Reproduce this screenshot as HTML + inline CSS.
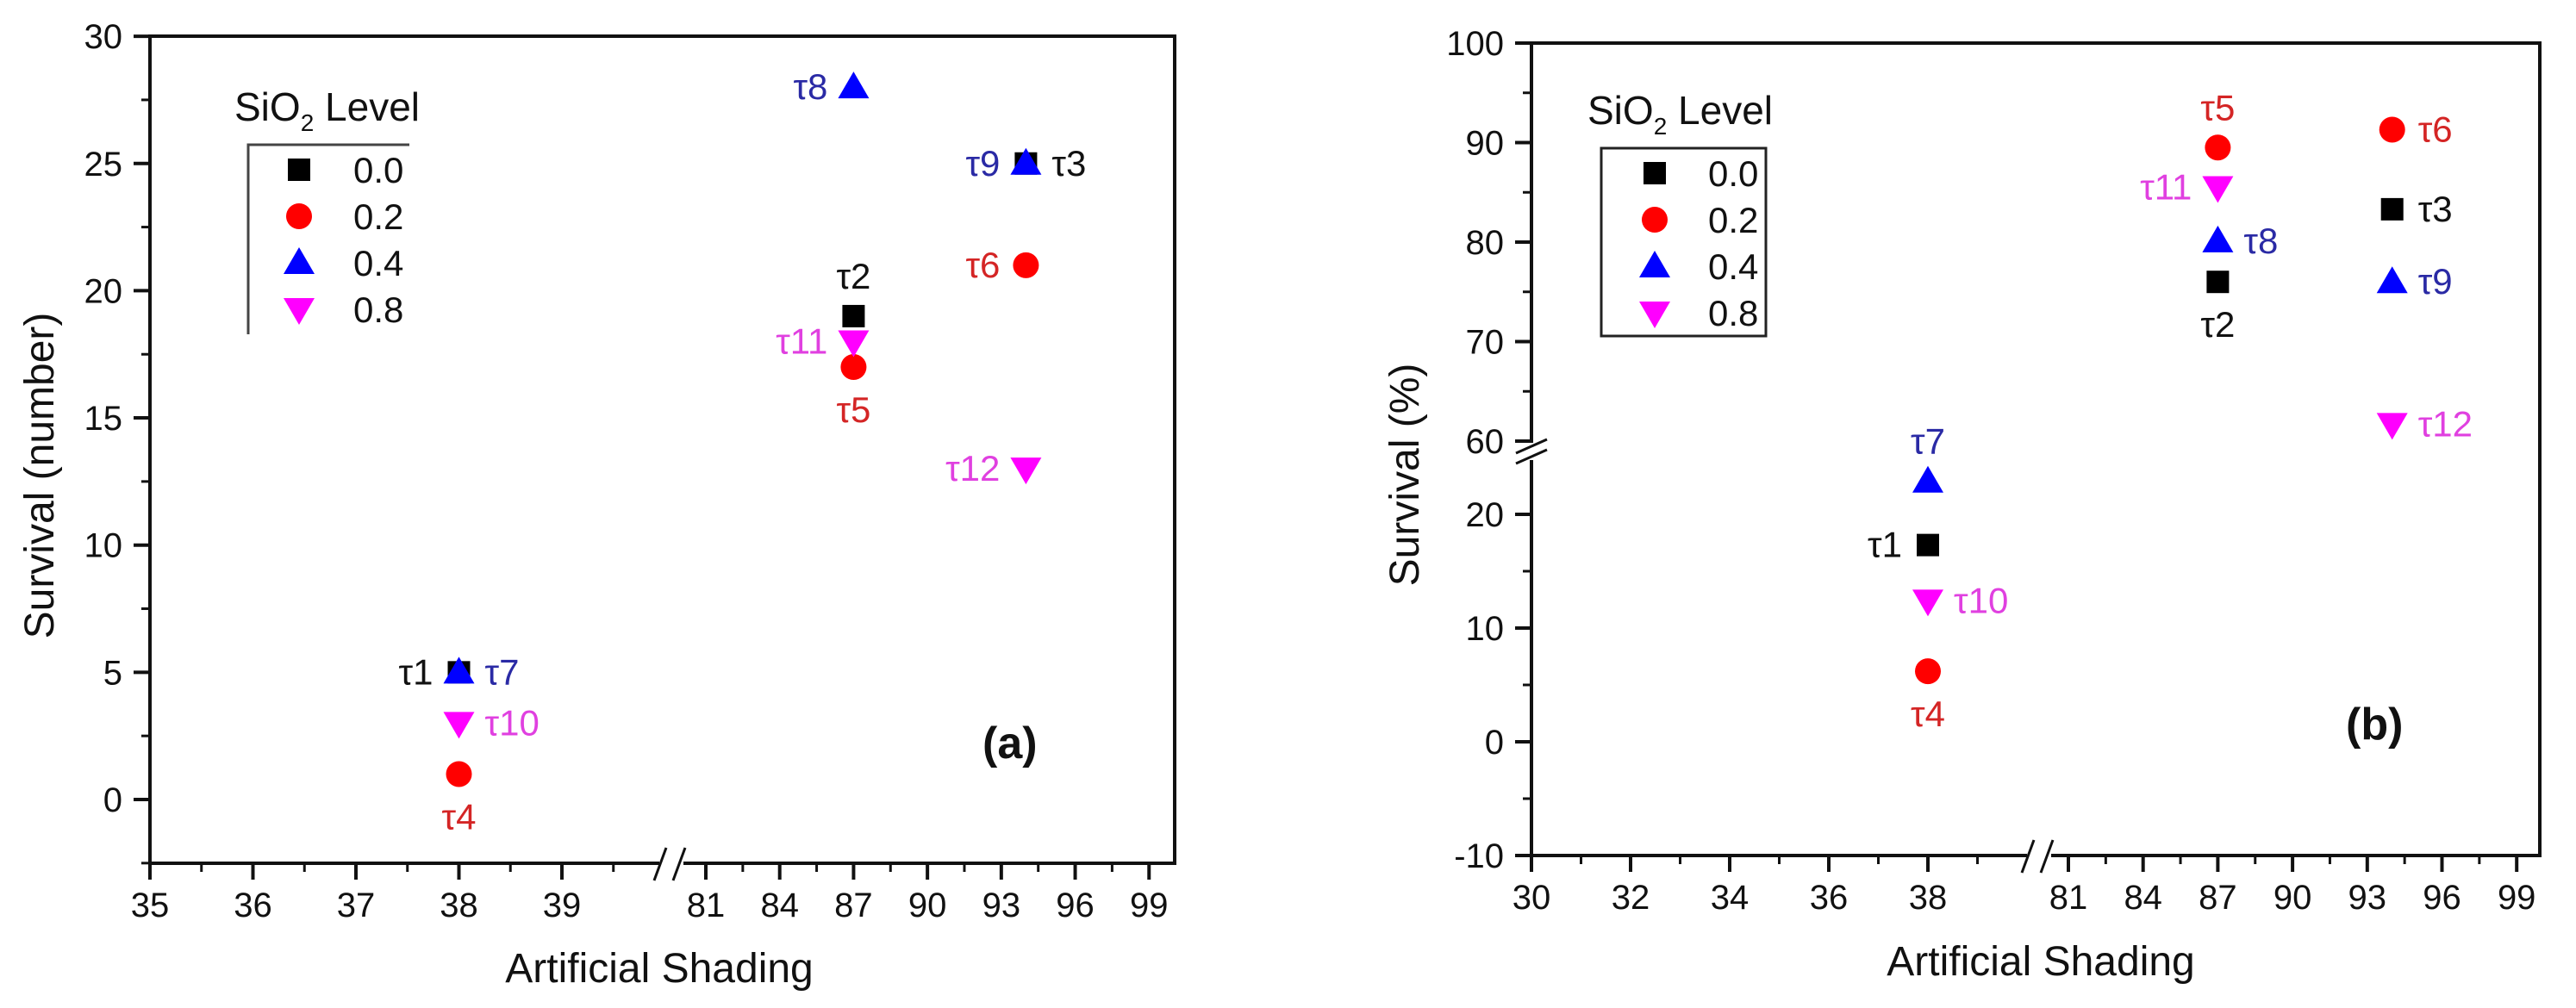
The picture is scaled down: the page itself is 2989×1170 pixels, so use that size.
<!DOCTYPE html>
<html><head><meta charset="utf-8"><style>
html,body{margin:0;padding:0;background:#fff;}
svg{display:block;font-family:"Liberation Sans",Arial,sans-serif;}
</style></head><body>
<svg id="fig" width="2989" height="1170" viewBox="0 0 2989 1170" xmlns="http://www.w3.org/2000/svg"></svg>
<script>
// ---- data (panel a: survival number) ----
const labelsA = ["τ1","τ2","τ3","τ4","τ5","τ6","τ7","τ8","τ9","τ10","τ11","τ12"];
const shadingA = [38,87,94,38,87,94,38,87,94,38,87,94];
const valuesA = [5,19,25,1,17,21,5,28,25,3,18,13];
// ---- data (panel b: survival %) ----
const shadingB = [38,87,94,38,87,94,38,87,94,38,87,94];
const valuesB = [17.3,76,83.3,6.2,89.5,91.3,22.9,80.1,76,12.4,85.5,61.7];
// SiO2 level per treatment index (0..3)
const levelIdx = [0,0,0,1,1,1,2,2,2,3,3,3];
const levels = ["0.0","0.2","0.4","0.8"];
const xTicksA = [35,36,37,38,39,81,84,87,90,93,96,99];
const xTicksB = [30,32,34,36,38,81,84,87,90,93,96,99];
const yTicksA = [0,5,10,15,20,25,30];
const yTicksB = [-10,0,10,20,60,70,80,90,100];
// label placement side for each treatment
const sideA = ["L","T","R","B","B","L","R","L","L","R","L","L"];
const sideB = ["L","B","R","B","T","R","T","R","R","R","L","R"];

const NS="http://www.w3.org/2000/svg";
const svg=document.getElementById('fig');
const mk=["#000000","#ff0000","#0000ff","#ff00ff"];
const lc=["#111111","#d42525","#2a2aa5","#e040e0"];
function el(tag,attrs,parent){const e=document.createElementNS(NS,tag);for(const k in attrs)e.setAttribute(k,attrs[k]);(parent||svg).appendChild(e);return e;}
function txt(s,x,y,attrs,parent){const t=el('text',Object.assign({x:x,y:y},attrs),parent);t.textContent=s;return t;}

function marker(g,lvl,x,y){
  let m;
  if(lvl===0){m=el('rect',{x:x-13,y:y-13,width:26,height:26,fill:mk[0]},g);}
  else if(lvl===1){m=el('circle',{cx:x,cy:y,r:15,fill:mk[1]},g);}
  else if(lvl===2){m=el('polygon',{points:`${x},${y-18} ${x+18},${y+13} ${x-18},${y+13}`,fill:mk[2]},g);}
  else {m=el('polygon',{points:`${x-18},${y-13} ${x+18},${y-13} ${x},${y+18}`,fill:mk[3]},g);}
  return m;
}

function panel(cfg){
  const g=el('g',{});
  
  
  const X=cfg.xScale, Y=cfg.yScale;
  // frame
  const ax=el('path',{d:`M${cfg.x0},${cfg.yTop} L${cfg.x1},${cfg.yTop} L${cfg.x1},${cfg.yBot} L${cfg.x0},${cfg.yBot} Z`,fill:"none",stroke:"#111",'stroke-width':4},g);
  
  
  // x break
  el('rect',{x:cfg.xBreak-14,y:cfg.yBot-6,width:28,height:12,fill:"#fff"},g);
  const xb=el('path',{d:`M${cfg.xBreak-20},${cfg.yBot+20} L${cfg.xBreak-6},${cfg.yBot-18} M${cfg.xBreak+2},${cfg.yBot+20} L${cfg.xBreak+16},${cfg.yBot-18}`,stroke:"#111",'stroke-width':3},g);
  
  
  if(cfg.yBreak){
    el('rect',{x:cfg.x0-6,y:cfg.yBreak-10,width:12,height:20,fill:"#fff"},g);
    const yb=el('path',{d:`M${cfg.x0-18},${cfg.yBreak+2} L${cfg.x0+18},${cfg.yBreak-14} M${cfg.x0-18},${cfg.yBreak+14} L${cfg.x0+18},${cfg.yBreak-2}`,stroke:"#111",'stroke-width':3},g);
    
    
  }
  // x ticks
  cfg.xTicks.forEach(v=>{
    const x=X(v);
    el('line',{x1:x,y1:cfg.yBot,x2:x,y2:cfg.yBot+19,stroke:"#111",'stroke-width':4},g);
    const t=txt(String(v),x,cfg.yBot+62,{'font-size':40,'text-anchor':'middle',fill:'#111'},g);
    
    
  });
  cfg.xMinor.forEach(v=>{const x=X(v);el('line',{x1:x,y1:cfg.yBot,x2:x,y2:cfg.yBot+10,stroke:"#111",'stroke-width':3},g);});
  // y ticks
  cfg.yTicks.forEach(v=>{
    const y=Y(v);
    el('line',{x1:cfg.x0-19,y1:y,x2:cfg.x0,y2:y,stroke:"#111",'stroke-width':4},g);
    const t=txt(String(v),cfg.x0-32,y+14,{'font-size':40,'text-anchor':'end',fill:'#111'},g);
    
    
  });
  cfg.yMinor.forEach(v=>{const y=Y(v);el('line',{x1:cfg.x0-10,y1:y,x2:cfg.x0,y2:y,stroke:"#111",'stroke-width':3},g);});
  // titles
  const xt=txt("Artificial Shading",cfg.xTitleX,cfg.xTitleY,{'font-size':48,'text-anchor':'middle',fill:'#111'},g);
  
  
  const yt=txt(cfg.yTitle,0,0,{'font-size':48,'text-anchor':'middle',fill:'#111',transform:`translate(${cfg.yTitleX},${cfg.yTitleY}) rotate(-90)`},g);
  
  
  // panel letter
  const pl=txt(cfg.letter,cfg.letterX,cfg.letterY,{'font-size':52,'font-weight':'bold',fill:'#111'},g);
  
  
  // legend
  const lg=el('g',{},g);
  
  
  const lt=txt("SiO",cfg.legX-16,cfg.legY-28,{'font-size':46,fill:'#111'},lg);
  const sub=el('tspan',{'font-size':28,dy:12},lt);sub.textContent="2";
  const rest=el('tspan',{dy:-12},lt);rest.textContent=" Level";
  
  
  if(cfg.legFull) el('rect',{x:cfg.legX,y:cfg.legY,width:cfg.legW,height:cfg.legH,fill:'none',stroke:'#222','stroke-width':3},lg);
  else el('path',{d:`M${cfg.legX},${cfg.legY+cfg.legH} L${cfg.legX},${cfg.legY} L${cfg.legX+cfg.legW},${cfg.legY}`,fill:'none',stroke:'#444','stroke-width':3},lg);
  levels.forEach((lv,i)=>{
    const ry=cfg.legY+29+i*54;
    const e=el('g',{},lg);
    
    
    marker(e,i,cfg.legMX,ry);
    txt(lv,cfg.legTX,ry+15,{'font-size':42,fill:'#111'},e);
  });
  // points
  cfg.xs.forEach((xv,i)=>{
    const lvl=levelIdx[i];
    const px=X(xv), py=Y(cfg.ys[i]);
    const pg=el('g',{},g);
    
    
    marker(pg,lvl,px,py);
    const s=cfg.sides[i];
    let lx=px,ly=py+14,anc='middle';
    if(s==='L'){lx=px-30;anc='end';}
    else if(s==='R'){lx=px+30;anc='start';}
    else if(s==='T'){ly=py-32;}
    else if(s==='B'){ly=py+64;}
    const t=txt(labelsA[i],lx,ly,{'font-size':42,'text-anchor':anc,fill:lc[lvl]},pg);
    
    
  });
}

// Panel (a) scales
function xScaleA(v){return v<60? 174+(v-35)*119.5 : 819+(v-81)*28.57;}
function yScaleA(v){return 928-v*29.53;}
panel({name:'panel-a',xScale:xScaleA,yScale:yScaleA,x0:174,x1:1363,yTop:42,yBot:1002,xBreak:779,yBreak:null,
  xTicks:xTicksA,xMinor:[35.5,36.5,37.5,38.5,39.5,82.5,85.5,88.5,91.5,94.5,97.5],
  yTicks:yTicksA,yMinor:[-2.5,2.5,7.5,12.5,17.5,22.5,27.5],
  xTitleX:765,xTitleY:1140,yTitle:"Survival (number)",yTitleX:62,yTitleY:552,
  letter:"(a)",letterX:1140,letterY:880,
  legX:288,legY:168,legW:187,legH:220,legFull:false,legMX:347,legTX:410,
  xs:shadingA,ys:valuesA,sides:sideA});

// Panel (b) scales (broken y axis)
function xScaleB(v){return v<60? 1777+(v-30)*57.5 : 2400+(v-81)*28.9;}
function yScaleB(v){return v>=40? 50+(100-v)*11.55 : 861-v*13.2;}
panel({name:'panel-b',xScale:xScaleB,yScale:yScaleB,x0:1777,x1:2947,yTop:50,yBot:993,xBreak:2366,yBreak:524,
  xTicks:xTicksB,xMinor:[31,33,35,37,39,82.5,85.5,88.5,91.5,94.5,97.5],
  yTicks:yTicksB,yMinor:[-5,5,15,65,75,85,95],
  xTitleX:2368,xTitleY:1132,yTitle:"Survival (%)",yTitleX:1646,yTitleY:551,
  letter:"(b)",letterX:2722,letterY:858,
  legX:1858,legY:172,legW:191,legH:218,legFull:true,legMX:1920,legTX:1982,
  xs:shadingB,ys:valuesB,sides:sideB});
</script>
</body></html>
